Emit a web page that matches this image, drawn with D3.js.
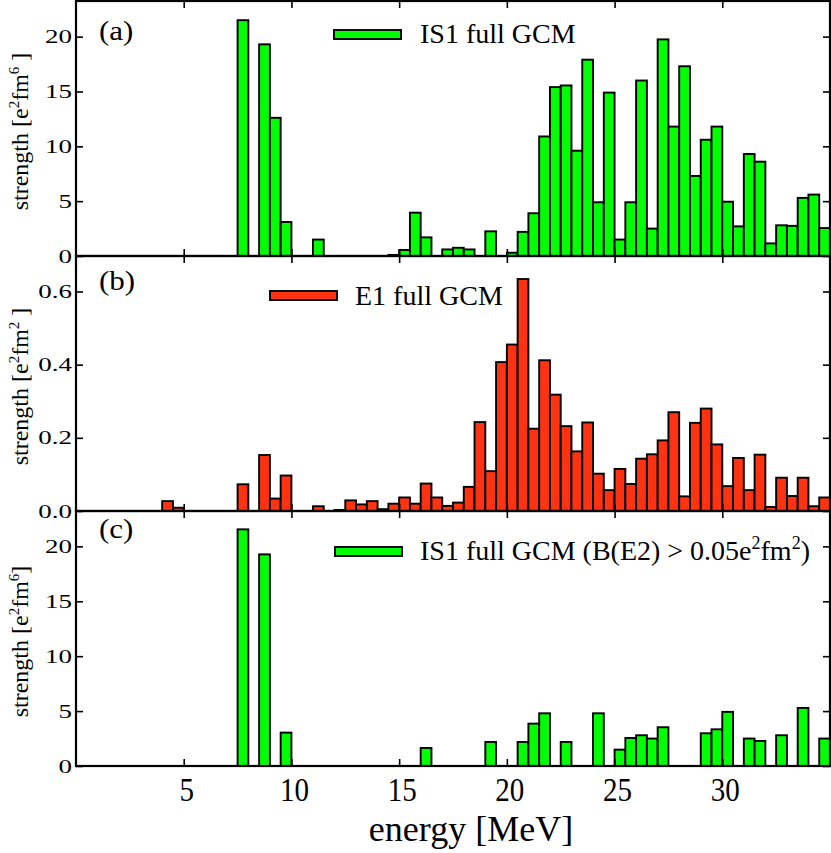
<!DOCTYPE html>
<html>
<head>
<meta charset="utf-8">
<script src="https://cdn.jsdelivr.net/npm/d3@7"></script>
<style>
  body { margin: 0; background: #fff; }
  text { font-family: "Liberation Serif", "Times New Roman", serif; fill: #000; }
</style>
</head>
<body>
<div id="chart"></div>
<script>
// bin width of the strength histograms (MeV)
const binWidth = 0.5;
const xTicks = [5, 10, 15, 20, 25, 30];

// (a) IS1 full GCM, left edge of each bin and strength [e^2 fm^6]
const is1Energy = [7.5, 8.5, 9.0, 9.5, 11.0, 14.5, 15.0, 15.5, 16.0, 17.0, 17.5, 18.0, 19.0, 20.0,
  20.5, 21.0, 21.5, 22.0, 22.5, 23.0, 23.5, 24.0, 24.5, 25.0, 25.5, 26.0, 26.5, 27.0, 27.5, 28.0,
  28.5, 29.0, 29.5, 30.0, 30.5, 31.0, 31.5, 32.0, 32.5, 33.0, 33.5, 34.0, 34.5];
const is1Strength = [21.5, 19.3, 12.6, 3.1, 1.5, 0.1, 0.55, 3.95, 1.7, 0.6, 0.75, 0.6, 2.25, 0.3,
  2.2, 3.9, 10.9, 15.4, 15.55, 9.6, 17.9, 4.9, 14.9, 1.5, 4.9, 16.0, 2.5, 19.75, 11.8, 17.3,
  7.3, 10.6, 11.8, 4.95, 2.7, 9.3, 8.6, 1.15, 2.8, 2.75, 5.3, 5.6, 2.55];

// (b) E1 full GCM [e^2 fm^2]
const e1Energy = [4.0, 4.5, 7.5, 8.5, 9.0, 9.5, 11.0, 12.0, 12.5, 13.0, 13.5, 14.0, 14.5, 15.0,
  15.5, 16.0, 16.5, 17.0, 17.5, 18.0, 18.5, 19.0, 19.5, 20.0, 20.5, 21.0, 21.5, 22.0, 22.5, 23.0,
  23.5, 24.0, 24.5, 25.0, 25.5, 26.0, 26.5, 27.0, 27.5, 28.0, 28.5, 29.0, 29.5, 30.0, 30.5, 31.0,
  31.5, 32.0, 32.5, 33.0, 33.5, 34.0, 34.5];
const e1Strength = [0.027, 0.009, 0.073, 0.153, 0.034, 0.097, 0.013, 0.003, 0.029, 0.018, 0.027, 0.005, 0.02, 0.037,
  0.02, 0.075, 0.037, 0.014, 0.023, 0.066, 0.243, 0.109, 0.407, 0.455, 0.634, 0.225, 0.412, 0.318, 0.232, 0.163,
  0.242, 0.102, 0.057, 0.115, 0.074, 0.143, 0.155, 0.193, 0.27, 0.04, 0.241, 0.28, 0.182, 0.068, 0.145, 0.057,
  0.154, 0.011, 0.091, 0.041, 0.091, 0.013, 0.037];

// (c) IS1 full GCM, only states with B(E2) > 0.05 e^2 fm^2
const cutEnergy = [7.5, 8.5, 9.5, 16.0, 19.0, 20.5, 21.0, 21.5, 22.5, 24.0, 25.0, 25.5, 26.0, 26.5,
  27.0, 29.0, 29.5, 30.0, 31.0, 31.5, 32.5, 33.5, 34.5];
const cutStrength = [21.55, 19.27, 3.04, 1.64, 2.19, 2.19, 3.86, 4.8, 2.19, 4.8, 1.49, 2.55, 2.8, 2.5,
  3.53, 2.98, 3.34, 4.93, 2.5, 2.28, 2.8, 5.29, 2.5];

const isTicks = [0, 5, 10, 15, 20];
const e1Ticks = [0, 0.2, 0.4, 0.6];

const W = 831, H = 853;
const left = 76, right = 830, panelH = 255;
const serif = '"Liberation Serif", "Times New Roman", serif';

const svg = d3.select("#chart").append("svg")
  .attr("width", W)
  .attr("height", H)
  .attr("font-family", serif);

const x = d3.scaleLinear().domain([0, 35]).range([left, right]);

const panels = [
  { top: 1, energy: is1Energy, strength: is1Strength, ymax: 23.25, ticks: isTicks, fmt: d3.format("d"),
    color: "#00ff00", tag: "(a)", tagY: 40, unit: "6", gap: true,
    legend: { x: 334, y: 30, tx: 420, ty: 43, parts: [["IS1 full GCM"]] } },
  { top: 256, energy: e1Energy, strength: e1Strength, ymax: 0.697, ticks: e1Ticks, fmt: d3.format(".1f"),
    color: "#ff3311", tag: "(b)", tagY: 290, unit: "2", gap: true,
    legend: { x: 270, y: 291, tx: 355, ty: 305, parts: [["E1 full GCM"]] } },
  { top: 511, energy: cutEnergy, strength: cutStrength, ymax: 23.22, ticks: isTicks, fmt: d3.format("d"),
    color: "#00ff00", tag: "(c)", tagY: 538, unit: "6", gap: false,
    legend: { x: 335, y: 547, tx: 420, ty: 560,
      parts: [["IS1 full GCM (B(E2) > 0.05e"], ["2", "sup"], ["fm"], ["2", "sup"], [")"]] } }
];

panels.forEach(function(p) {
  const y = d3.scaleLinear().domain([0, p.ymax]).range([p.top + panelH, p.top]);
  const g = svg.append("g");

  // bars
  g.selectAll("rect.bar")
    .data(p.energy.map((e, i) => ({ e: e, v: p.strength[i] })))
    .join("rect")
    .attr("class", "bar")
    .attr("x", d => x(d.e))
    .attr("width", d => x(d.e + binWidth) - x(d.e))
    .attr("y", d => y(d.v))
    .attr("height", d => y(0) - y(d.v))
    .attr("fill", p.color)
    .attr("stroke", "#000")
    .attr("stroke-width", 1.9);

  // inward ticks on all four sides
  const tickStyle = sel => {
    sel.select(".domain").remove();
    sel.selectAll(".tick line").attr("stroke", "#000").attr("stroke-width", 1.6);
    sel.selectAll(".tick text").remove();
  };
  g.append("g").attr("transform", `translate(0,${p.top + panelH})`)
    .call(d3.axisTop(x).tickValues(xTicks).tickSize(7)).call(tickStyle);
  g.append("g").attr("transform", `translate(0,${p.top})`)
    .call(d3.axisBottom(x).tickValues(xTicks).tickSize(7)).call(tickStyle);
  g.append("g").attr("transform", `translate(${left},0)`)
    .call(d3.axisRight(y).tickValues(p.ticks).tickSize(7)).call(tickStyle);
  g.append("g").attr("transform", `translate(${right},0)`)
    .call(d3.axisLeft(y).tickValues(p.ticks).tickSize(7)).call(tickStyle);

  // frame
  g.append("rect")
    .attr("x", left).attr("y", p.top)
    .attr("width", right - left).attr("height", panelH)
    .attr("fill", "none").attr("stroke", "#000").attr("stroke-width", 2.2);

  // y tick labels (drawn wide like the original)
  g.selectAll("text.ylab")
    .data(p.ticks)
    .join("text")
    .attr("class", "ylab")
    .attr("transform", d => `translate(72,${y(d)}) scale(1.42,1)`)
    .attr("dy", "0.35em")
    .attr("text-anchor", "end")
    .attr("font-family", serif)
    .style("font-size", "19px")
    .text(d => p.fmt(d));

  // panel tag
  g.append("text")
    .attr("transform", `translate(99,${p.tagY}) scale(1.15,1)`)
    .attr("font-family", serif)
    .style("font-size", "27px")
    .text(p.tag);

  // y axis title
  const yt = g.append("text")
    .attr("transform", `translate(28,${p.top + panelH / 2 + 3}) rotate(-90)`)
    .attr("text-anchor", "middle")
    .attr("font-family", serif)
    .style("font-size", "24px");
  yt.append("tspan").text("strength [e");
  yt.append("tspan").attr("dy", -9).style("font-size", "15px").text("2");
  yt.append("tspan").attr("dy", 9).text("fm");
  yt.append("tspan").attr("dy", -9).style("font-size", "15px").text(p.unit);
  yt.append("tspan").attr("dy", 9).text(p.gap ? " ]" : "]");

  // legend
  g.append("rect")
    .attr("x", p.legend.x).attr("y", p.legend.y)
    .attr("width", 67).attr("height", 9)
    .attr("fill", p.color).attr("stroke", "#000").attr("stroke-width", 1.9);
  const lt = g.append("text")
    .attr("x", p.legend.tx).attr("y", p.legend.ty)
    .attr("font-family", serif)
    .style("font-size", "28px");
  let raised = false;
  p.legend.parts.forEach(function(part) {
    const t = lt.append("tspan").text(part[0]);
    if (part[1] === "sup") {
      t.attr("dy", -11).style("font-size", "18px");
      raised = true;
    } else if (raised) {
      t.attr("dy", 11);
      raised = false;
    }
  });
});

// x tick labels and title under the bottom panel
svg.selectAll("text.xlab")
  .data(xTicks)
  .join("text")
  .attr("class", "xlab")
  .attr("transform", d => `translate(${x(d) + 3},801) scale(0.88,1)`)
  .attr("text-anchor", "middle")
  .attr("font-family", serif)
  .style("font-size", "33px")
  .text(d => d);

svg.append("text")
  .attr("x", 471)
  .attr("y", 841)
  .attr("text-anchor", "middle")
  .attr("font-family", serif)
  .style("font-size", "36px")
  .text("energy [MeV]");
</script>
</body>
</html>
